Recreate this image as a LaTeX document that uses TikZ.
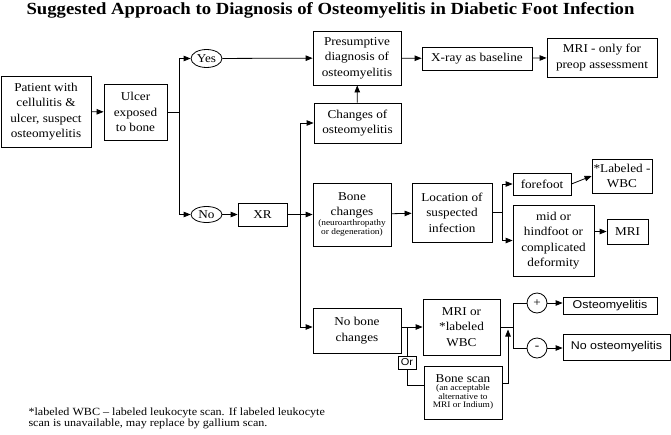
\documentclass[tikz,border=0pt]{standalone}
\usepackage{fontspec}
\setmainfont{Liberation Serif}[FakeStretch=1.1]
\newfontfamily\sansfnt{Liberation Sans}[FakeStretch=1.1]
\usetikzlibrary{arrows.meta,shapes.geometric}
\newcommand{\smallfnt}{\fontsize{8.5}{9.5}\selectfont}
\renewcommand{\arraystretch}{0.85}

\begin{document}
\begin{tikzpicture}[x=1pt,y=-1pt,>={Triangle[length=7pt,width=5.5pt]},
    every node/.style={font=\fontsize{12}{15.5}\selectfont},
    box/.style={draw,line width=0.8pt,align=center,inner sep=0pt},
    oval/.style={draw,ellipse,line width=0.8pt,inner sep=0pt},
    sign/.style={draw,circle,line width=0.8pt,minimum size=20pt,inner sep=0pt},
    link/.style={line width=0.8pt}]
  \useasboundingbox (0,0) rectangle (671,434);

  \node[font=\fontsize{17}{19}\selectfont\bfseries,anchor=base] (title) at (330.5,14)
    {Suggested Approach to Diagnosis of Osteomyelitis in Diabetic Foot Infection};

  % first column
  \node[box,minimum width=90,minimum height=71] (patient) at (46,111.5)
    {Patient with\\cellulitis \&\\ulcer, suspect\\osteomyelitis};
  \node[box,minimum width=63,minimum height=56] (ulcer) at (135.5,112)
    {Ulcer\\exposed\\to bone};
  \node[oval,minimum width=31,minimum height=18] (yes) at (206.5,58.5) {Yes};
  \node[oval,minimum width=31,minimum height=16] (no) at (206.5,214.5) {No};
  \node[box,minimum width=49,minimum height=23] (xr) at (262.5,214.5) {XR};

  % upper row
  \node[box,minimum width=88,minimum height=54] (presump) at (357,58)
    {Presumptive\\diagnosis of\\osteomyelitis};
  \node[box,minimum width=110,minimum height=23] (xray) at (477,58.5) {X-ray as baseline};
  \node[box,minimum width=110,minimum height=39] (mri1) at (602,57.5)
    {MRI - only for\\preop assessment};
  \node[box,minimum width=87,minimum height=40] (changes) at (357.5,123)
    {Changes of\\osteomyelitis};

  % middle row
  \node[box,minimum width=78,minimum height=63] (bone) at (352,214.5)
    {Bone\\changes\\[-1pt]{\smallfnt\begin{tabular}{@{}c@{}}(neuroarthropathy\\or degeneration)\end{tabular}}};
  \node[box,minimum width=80,minimum height=59] (location) at (452,212.5)
    {Location of\\suspected\\infection};
  \node[box,minimum width=58,minimum height=22] (forefoot) at (542,184) {forefoot};
  \node[box,minimum width=60,minimum height=34] (labwbc) at (622,176) {*Labeled -\\WBC};
  \node[box,minimum width=81,minimum height=71] (mid) at (553.5,240.5)
    {mid or\\hindfoot or\\complicated\\deformity};
  \node[box,minimum width=41,minimum height=25] (mri2) at (627.5,231.5) {MRI};

  % lower row
  \node[box,minimum width=88,minimum height=45] (nobone) at (357,330.5)
    {No bone\\changes};
  \node[box,minimum width=77,minimum height=56] (mriwbc) at (461.5,327)
    {MRI or\\*labeled\\WBC};
  \node[box,minimum width=78,minimum height=53] (bonescan) at (463,392.5)
    {Bone scan\\[1pt]{\smallfnt\begin{tabular}{@{}c@{}}(an acceptable\\alternative to\\MRI or Indium)\end{tabular}}};
  \node[sign] (plus) at (537,303) {+};
  \node[sign] (minus) at (537,348) {-};
  \node[box,minimum width=94,minimum height=17,font=\sansfnt\fontsize{11.3}{13}\selectfont] (osteo) at (610,305.5)
    {Osteomyelitis};
  \node[box,minimum width=107,minimum height=26,font=\sansfnt\fontsize{11.3}{13}\selectfont] (noosteo) at (616.5,347)
    {No osteomyelitis};

  \node[anchor=north west,align=left,font=\fontsize{11}{11.5}\selectfont] (note) at (25,404)
    {*labeled WBC -- labeled leukocyte scan. If labeled leukocyte\\scan is unavailable, may replace by gallium scan.};

  % connectors
  \coordinate (j1) at (179,112);
  \coordinate (j2) at (300,214.5);
  \coordinate (j3) at (502,212.5);
  \coordinate (j4) at (407,327);
  \coordinate (j5) at (508,329.5);
  \coordinate (j6) at (513,327);

  \draw[link,->] (patient) -- (ulcer);
  \draw[link] (ulcer) -- (j1);
  \draw[link,->] (j1) |- (yes);
  \draw[link,->] (j1) |- (no);
  \draw[link,->] (yes) -- (presump);
  \draw[link,->] (no) -- (xr);
  \draw[link,->] (presump) -- (xray);
  \draw[link,->] (xray) -- (mri1);
  \draw[link,->] (changes) -- (presump);

  \draw[link,->] (xr) -- (bone);
  \draw[link,->] (j2) |- (changes);
  \draw[link,->] (j2) |- ([yshift=3.5]nobone.west);
  \draw[link,->] (bone) -- (location);
  \draw[link] (location) -- (j3);
  \draw[link,->] (j3) |- (forefoot);
  \draw[link,->] (j3) |- (mid);
  \draw[link,->] (forefoot.east) -- (labwbc.west);
  \draw[link,->] (mid.east |- mri2.west) -- (mri2.west);

  \draw[link,->] (nobone.east |- mriwbc.west) -- (mriwbc.west);
  \draw[link] (j4) |- ([yshift=7.5]bonescan.west);
  \node[box,fill=white,minimum width=18,minimum height=13,font=\sansfnt\fontsize{10}{12}\selectfont] (or) at (407,362.5) {Or};
  \draw[link,->] ([yshift=9.5]bonescan.east) -| (j5);
  \draw[link] (mriwbc) -- (j6);
  \draw[link] (j6) |- (plus);
  \draw[link] (j6) |- (minus);
  \draw[link,->] (plus.east) -- (plus.east -| osteo.west);
  \draw[link,->] (minus.east) -- (minus.east -| noosteo.west);
\end{tikzpicture}
\end{document}
